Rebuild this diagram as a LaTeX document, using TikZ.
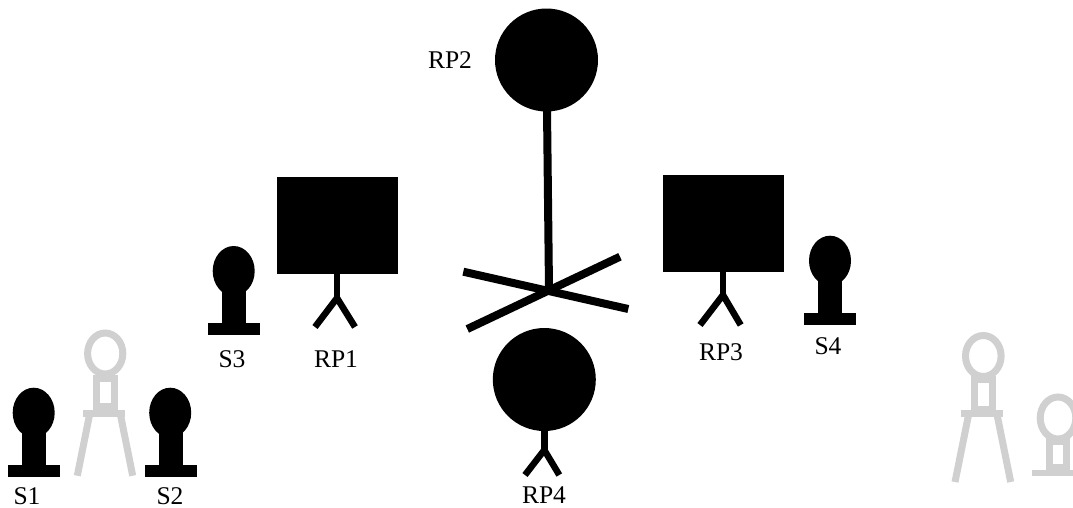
\documentclass[tikz,border=0pt]{standalone}
\usepackage{fontspec}
\setmainfont{Liberation Serif}
\usetikzlibrary{shapes.geometric}
\definecolor{ghostgray}{RGB}{208,208,208}
\tikzset{
  lbl/.style={inner sep=0pt,font=\fontsize{25.5}{27}\selectfont,text=black},
  blob/.style={circle,fill=black,inner sep=0pt,minimum size=103pt},
  panel/.style={rectangle,fill=black,inner sep=0pt,minimum width=121pt,minimum height=97pt},
  stick/.style={draw=black,line width=6.5pt},
  cross/.style={draw=black,line width=8pt},
  ghost/.style={draw=ghostgray,line width=7pt,fill=none},
  shead/.style={ellipse,fill=black,inner sep=0pt,minimum width=42pt,minimum height=50pt},
}
\newcommand{\sensorshape}[3]{%
  \begin{scope}[shift={(#2,#3)}]
    \node[shead] (#1head) at (33.7,412.7) {};
    \fill[black] (22,428) rectangle (46,466);
    \fill[black] (8,465) rectangle (60,477);
  \end{scope}}
\begin{document}
\begin{tikzpicture}[x=1pt,y=-1pt]
\useasboundingbox (0,0) rectangle (1073,507);
\clip (0,0) rectangle (1073,507);
% ghost towers
\draw[ghost] (105.2,353.5) ellipse [x radius=17.6,y radius=20.5];
\draw[ghost] (96.5,378) rectangle (114.4,406);
\fill[ghostgray] (83,410) rectangle (125,417);
\draw[ghost] (89.3,416) -- (77.3,475.7);
\draw[ghost] (120.7,416) -- (132.7,475.7);
\draw[ghost] (983.3,356) ellipse [x radius=17.8,y radius=20.5];
\draw[ghost] (974.8,379) rectangle (992.5,409);
\fill[ghostgray] (961,410) rectangle (1003,417);
\draw[ghost] (968.3,416) -- (955,482);
\draw[ghost] (997.3,416) -- (1010.7,482);
\draw[ghost] (1058,418) ellipse [x radius=17.8,y radius=21];
\draw[ghost] (1049.4,441) rectangle (1066.6,467);
\fill[ghostgray] (1032,469.7) rectangle (1084,476.3);
% sensors
\sensorshape{sa}{0}{0}
\sensorshape{sb}{136.5}{0}
\sensorshape{sc}{200}{-141.7}
\sensorshape{sd}{796.3}{-152}
% RP1
\node[panel] (rp1) at (337.5,225.5) {};
\coordinate (rp1hip) at (337,298);
\coordinate (rp1l) at (315,327);
\coordinate (rp1r) at (355,327);
\draw[stick] (rp1.south-|rp1hip) -- (rp1hip);
\draw[stick] (rp1l) -- (rp1hip) -- (rp1r);
% RP3
\node[panel] (rp3) at (723.5,223.3) {};
\coordinate (rp3hip) at (723,295);
\coordinate (rp3l) at (700,325);
\coordinate (rp3r) at (740.7,325);
\draw[stick] (rp3.south-|rp3hip) -- (rp3hip);
\draw[stick] (rp3l) -- (rp3hip) -- (rp3r);
% RP2
\node[blob] (rp2) at (546.5,60) {};
\coordinate (hub) at (549,289);
\coordinate (xa) at (463.3,271.7);
\coordinate (xb) at (628.3,309);
\coordinate (xc) at (467.3,329);
\coordinate (xd) at (620,256.7);
\draw[cross] (rp2.south) ++(0.5,-2) -- (hub);
\draw[cross] (xa) -- (xb);
\draw[cross] (xc) -- (xd);
% RP4
\node[blob] (rp4) at (544.3,379.5) {};
\coordinate (rp4hip) at (544.3,450);
\coordinate (rp4l) at (525,475);
\coordinate (rp4r) at (559.3,475);
\draw[stick] (rp4.south) -- (rp4hip);
\draw[stick] (rp4l) -- (rp4hip) -- (rp4r);
% labels
\node[lbl] (t2) at (450,60) {RP2};
\node[lbl] (t1) at (336,359) {RP1};
\node[lbl] (t3) at (721,352) {RP3};
\node[lbl] (t4) at (544,495) {RP4};
\node[lbl] (s1) at (27,496.5) {S1};
\node[lbl] (s2) at (170,496.5) {S2};
\node[lbl] (s3) at (232,359) {S3};
\node[lbl] (s4) at (828,346) {S4};
\end{tikzpicture}
\end{document}
